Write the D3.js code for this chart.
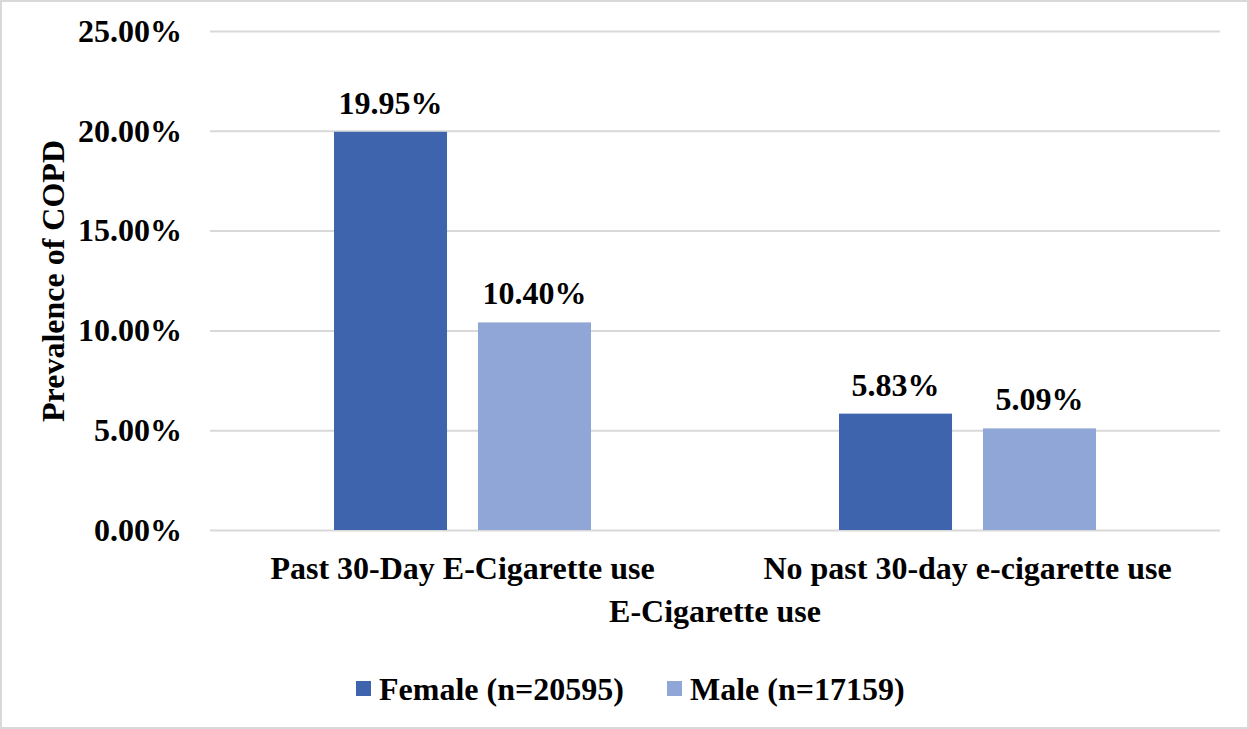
<!DOCTYPE html>
<html>
<head>
<meta charset="utf-8">
<script src="https://cdn.jsdelivr.net/npm/d3@7"></script>
<style>
  body { margin: 0; background: #fff; }
  text { font-family: "Liberation Serif", "Times New Roman", serif; font-weight: bold; fill: #000; }
</style>
</head>
<body>
<div id="container"></div>
<script>
/* DATA */
const groups = ["Past 30-Day E-Cigarette use", "No past 30-day e-cigarette use"];
const seriesNames = ["Female (n=20595)", "Male (n=17159)"];
const femaleValues = [19.95, 5.83];
const maleValues = [10.40, 5.09];
const yTicks = [0, 5, 10, 15, 20, 25];

const width = 1249, height = 729;
const margin = { top: 31, bottom: 199, left: 210, right: 29 };
const colors = ["#3e64ad", "#8fa6d6"];
const fontSize = 32;

const data = groups.map((g, i) => ({ group: g, values: [femaleValues[i], maleValues[i]] }));

const svg = d3.select("#container").append("svg")
  .attr("width", width)
  .attr("height", height);

// outer border
svg.append("rect")
  .attr("x", 1).attr("y", 1)
  .attr("width", width - 2).attr("height", height - 2)
  .attr("fill", "#fff")
  .attr("stroke", "#d9d9d9")
  .attr("stroke-width", 2);

/* SCALES */
const xScale = d3.scaleBand()
  .domain(groups)
  .range([margin.left, width - margin.right]);

// bars inside each group
const xInner = d3.scaleBand()
  .domain(seriesNames)
  .range([124, 381])
  .paddingInner(0.215);

const yScale = d3.scaleLinear()
  .domain([0, 25])
  .range([height - margin.bottom, margin.top]);

/* GRID + Y AXIS */
const yAxis = d3.axisLeft(yScale)
  .tickValues(yTicks)
  .tickSize(-(width - margin.left - margin.right))
  .tickPadding(28)
  .tickFormat(d => d.toFixed(2) + "%");

svg.append("g")
  .attr("transform", `translate(${margin.left},0)`)
  .call(yAxis)
  .call(g => g.select(".domain").remove())
  .call(g => g.selectAll("line").attr("stroke", "#d9d9d9").attr("stroke-width", 2))
  .call(g => g.selectAll("text")
    .attr("font-size", fontSize)
    .attr("font-family", "Liberation Serif")
    .attr("font-weight", "bold")
    .attr("fill", "#000"));

/* BARS */
const gGroups = svg.append("g")
  .selectAll("g")
  .data(data)
  .join("g")
  .attr("transform", d => `translate(${xScale(d.group)},0)`);

gGroups.selectAll("rect")
  .data(d => d.values.map((v, j) => ({ name: seriesNames[j], value: v, j })))
  .join("rect")
  .attr("x", d => xInner(d.name))
  .attr("y", d => yScale(d.value))
  .attr("width", xInner.bandwidth())
  .attr("height", d => yScale(0) - yScale(d.value))
  .attr("fill", d => colors[d.j]);

gGroups.selectAll(".lbl")
  .data(d => d.values.map((v, j) => ({ name: seriesNames[j], value: v })))
  .join("text")
  .attr("class", "lbl")
  .attr("x", d => xInner(d.name) + xInner.bandwidth() / 2)
  .attr("y", d => yScale(d.value) - 18)
  .attr("text-anchor", "middle")
  .attr("font-size", fontSize)
  .text(d => d.value.toFixed(2) + "%");

/* X AXIS LABELS */
const xAxis = d3.axisBottom(xScale).tickSize(0).tickPadding(26);
svg.append("g")
  .attr("transform", `translate(0,${height - margin.bottom})`)
  .call(xAxis)
  .call(g => g.select(".domain").remove())
  .call(g => g.selectAll("text")
    .attr("font-size", fontSize)
    .attr("font-family", "Liberation Serif")
    .attr("font-weight", "bold")
    .attr("fill", "#000"));

/* AXIS TITLES */
svg.append("text")
  .attr("x", (margin.left + width - margin.right) / 2)
  .attr("y", 622)
  .attr("text-anchor", "middle")
  .attr("font-size", fontSize)
  .text("E-Cigarette use");

svg.append("text")
  .attr("transform", "translate(64,281) rotate(-90)")
  .attr("text-anchor", "middle")
  .attr("font-size", fontSize)
  .text("Prevalence of COPD");

/* LEGEND */
const legend = svg.append("g");
const legendX = [356, 667];
seriesNames.forEach((name, i) => {
  legend.append("rect")
    .attr("x", legendX[i]).attr("y", 681)
    .attr("width", 15).attr("height", 15)
    .attr("fill", colors[i]);
  legend.append("text")
    .attr("x", legendX[i] + 23)
    .attr("y", 700)
    .attr("font-size", fontSize)
    .text(name);
});
</script>
</body>
</html>
